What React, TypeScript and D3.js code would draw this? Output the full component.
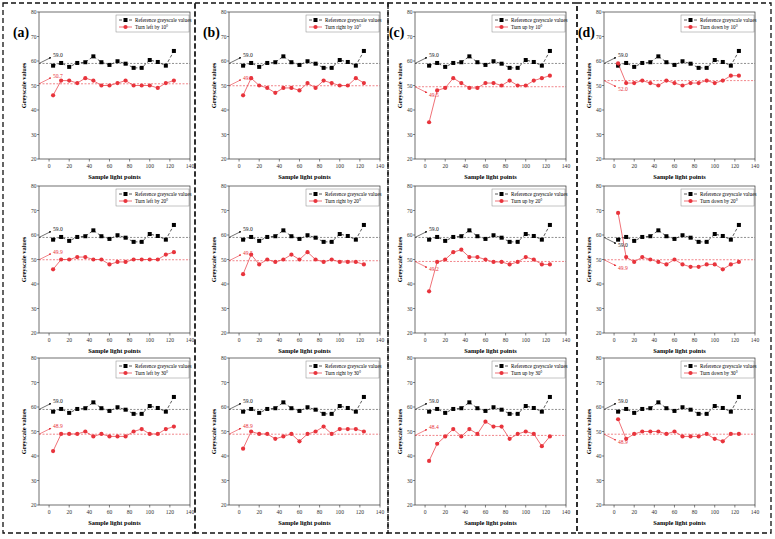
import React from 'react';
import * as d3 from 'd3';

// sample light points (x) and the reference greyscale values shared by every panel
const samplePoints = [4, 12, 20, 28, 36, 44, 52, 60, 68, 76, 84, 92, 100, 108, 116, 124];
const referenceValues = [58.1, 59.2, 57.6, 59.2, 59.5, 61.9, 59.5, 58.4, 59.9, 58.9, 57.2, 57.2, 60.4, 59.6, 58.1, 64.1];
const referenceMean = 59.0;

// turned greyscale values
const left10 = [46, 52, 52, 51, 53, 52, 50, 50, 51, 52, 50, 50, 50, 49, 51, 52];
const left20 = [46, 50, 50, 51, 51, 50, 50, 48, 49, 49, 50, 50, 50, 50, 52, 53];
const left30 = [42, 49, 49, 49, 50, 48, 49, 48, 48, 48, 50, 51, 49, 49, 51, 52];
const right10 = [46, 53, 50, 49, 47, 49, 49, 48, 51, 49, 52, 51, 50, 50, 53, 51];
const right20 = [44, 52, 48, 50, 49, 50, 52, 50, 53, 50, 49, 50, 49, 49, 49, 48];
const right30 = [43, 50, 49, 49, 47, 48, 49, 46, 49, 50, 52, 49, 51, 51, 51, 50];
const up10 = [35, 48, 49, 53, 51, 49, 49, 51, 51, 50, 52, 50, 50, 52, 53, 54];
const up20 = [37, 49, 50, 53, 54, 51, 51, 50, 49, 49, 48, 49, 51, 50, 48, 48];
const up30 = [38, 45, 48, 51, 48, 51, 49, 54, 52, 52, 47, 49, 50, 49, 44, 48];
const down10 = [59, 51, 51, 52, 51, 50, 52, 51, 50, 51, 51, 52, 51, 52, 54, 54];
const down20 = [69, 51, 49, 51, 50, 49, 48, 50, 48, 47, 47, 48, 48, 46, 48, 49];
const down30 = [55, 47, 49, 50, 50, 50, 49, 50, 48, 48, 48, 49, 47, 46, 49, 49];

const leftMeans = [50.7, 49.9, 48.9];
const rightMeans = [49.9, 49.5, 48.9];
const upMeans = [49.5, 49.2, 48.4];
const downMeans = [52.0, 49.9, 48.9];

const panelLetters = ['(a)', '(b)', '(c)', '(d)'];
const directions = ['left', 'right', 'up', 'down'];
const angles = [10, 20, 30];
const xTicks = [0, 20, 40, 60, 80, 100, 120, 140];
const yTicks = [20, 30, 40, 50, 60, 70, 80];

const seriesByCol = [
  [left10, left20, left30],
  [right10, right20, right30],
  [up10, up20, up30],
  [down10, down20, down30],
];
const meansByCol = [leftMeans, rightMeans, upMeans, downMeans];

// which side of the dashed line each value label sits on (-1 above, 1 below)
const refSide = [[-1, -1, -1], [-1, -1, -1], [-1, -1, -1], [-1, 1, -1]];
const turnSide = [[-1, -1, -1], [-1, -1, -1], [1, 1, -1], [1, 1, 1]];

// layout
const colLeft = [39, 229, 415, 604];
const rowTop = [12, 186, 358];
const plotW = 151;
const plotH = 147;
const RED = '#e8343c';
const FONT = '"Liberation Serif", "DejaVu Serif", serif';

const Panel = ({ col, row }: { col: number; row: number }) => {
  const left = colLeft[col];
  const top = rowTop[row];
  const x = d3.scaleLinear().domain([-10, 140]).range([left, left + plotW]);
  const y = d3.scaleLinear().domain([20, 80]).range([top + plotH, top]);
  const values = seriesByCol[col][row];
  const mean = meansByCol[col][row];

  const line = d3
    .line<number>()
    .x((_, i) => x(samplePoints[i]))
    .y((d) => y(d));

  const legendX = left + plotW - 74;
  const legendY = top + 3;

  const note = (val: number, side: number, color: string) => {
    const y0 = y(val);
    const x1 = left + 12;
    const y1 = y0 + side * 6;
    return (
      <g>
        <line x1={left} y1={y0} x2={x1} y2={y1} stroke={color} strokeWidth={0.6} markerEnd={color === RED ? 'url(#arrRed)' : 'url(#arrBlack)'} />
        <text x={x1 + 2} y={y1 + (side < 0 ? 0 : 4)} fontSize={5.6} fill={color} fontFamily={FONT}>
          {val.toFixed(1)}
        </text>
      </g>
    );
  };

  return (
    <g>
      {/* axes ticks */}
      {xTicks.map((t) => (
        <g key={'x' + t}>
          <line x1={x(t)} x2={x(t)} y1={top + plotH} y2={top + plotH + 2.5} stroke="#333" strokeWidth={0.6} />
          <text x={x(t)} y={top + plotH + 9} fontSize={5.6} textAnchor="middle" fill="#333" fontFamily={FONT}>
            {t}
          </text>
        </g>
      ))}
      {yTicks.map((t) => (
        <g key={'y' + t}>
          <line x1={left - 2} x2={left} y1={y(t)} y2={y(t)} stroke="#333" strokeWidth={0.6} />
          <text x={left - 2.5} y={y(t) + 2} fontSize={5.5} textAnchor="end" fill="#333" fontFamily={FONT}>
            {t}
          </text>
        </g>
      ))}
      <text x={left + plotW / 2} y={top + plotH + 20} fontSize={6.4} fontWeight="bold" textAnchor="middle" fontFamily={FONT}>
        Sample light points
      </text>
      <text
        transform={`translate(${left - 13},${top + plotH / 2}) rotate(-90)`}
        fontSize={6.4}
        fontWeight="bold"
        textAnchor="middle"
        fontFamily={FONT}
      >
        Greyscale values
      </text>

      {/* mean lines */}
      <line x1={left} x2={left + plotW} y1={y(referenceMean)} y2={y(referenceMean)} stroke="#444" strokeWidth={0.6} strokeDasharray="2,1.5" />
      <line x1={left} x2={left + plotW} y1={y(mean)} y2={y(mean)} stroke={RED} strokeWidth={0.6} strokeDasharray="2,1.5" />

      {/* reference series */}
      <path d={line(referenceValues) || ''} fill="none" stroke="#111" strokeWidth={0.7} strokeDasharray="3,2" />
      {referenceValues.map((v, i) => (
        <rect key={'r' + i} x={x(samplePoints[i]) - 2} y={y(v) - 2} width={4} height={4} fill="#000" />
      ))}

      {/* turned series */}
      <path d={line(values) || ''} fill="none" stroke={RED} strokeWidth={0.7} />
      {values.map((v, i) => (
        <circle key={'c' + i} cx={x(samplePoints[i])} cy={y(v)} r={2.1} fill={RED} />
      ))}

      {note(referenceMean, refSide[col][row], '#111')}
      {note(mean, turnSide[col][row], RED)}

      {/* legend */}
      <rect x={legendX} y={legendY} width={73} height={17} fill="#fff" stroke="#888" strokeWidth={0.5} />
      <line x1={legendX + 3} x2={legendX + 16} y1={legendY + 5} y2={legendY + 5} stroke="#111" strokeWidth={0.7} strokeDasharray="3,2" />
      <rect x={legendX + 7.5} y={legendY + 3} width={4} height={4} fill="#000" />
      <text x={legendX + 19} y={legendY + 6.8} fontSize={5.2} fontFamily={FONT}>
        Reference greyscale values
      </text>
      <line x1={legendX + 3} x2={legendX + 16} y1={legendY + 12} y2={legendY + 12} stroke={RED} strokeWidth={0.7} />
      <circle cx={legendX + 9.5} cy={legendY + 12} r={2.1} fill={RED} />
      <text x={legendX + 19} y={legendY + 13.8} fontSize={5.2} fontFamily={FONT}>
        {`Turn ${directions[col]} by ${angles[row]}°`}
      </text>

      {/* frame */}
      <rect x={left} y={top} width={plotW} height={plotH} fill="none" stroke="#333" strokeWidth={0.7} />
    </g>
  );
};

const colBounds = [3, 195, 388, 577, 771];

export default function App() {
  return (
    <svg width={775} height={539} style={{ position: 'absolute', left: 0, top: 0, background: '#fff' }}>
      <defs>
        <marker id="arrBlack" viewBox="0 0 6 6" refX="5" refY="3" markerWidth="4" markerHeight="4" orient="auto">
          <path d="M0,0 L6,3 L0,6 z" fill="#111" />
        </marker>
        <marker id="arrRed" viewBox="0 0 6 6" refX="5" refY="3" markerWidth="4" markerHeight="4" orient="auto">
          <path d="M0,0 L6,3 L0,6 z" fill={RED} />
        </marker>
      </defs>
      {colBounds.slice(0, 4).map((b, i) => (
        <rect
          key={'box' + i}
          x={b}
          y={3}
          width={colBounds[i + 1] - b}
          height={530}
          fill="none"
          stroke="#111"
          strokeWidth={1.3}
          strokeDasharray="5,3"
        />
      ))}
      {[0, 1, 2, 3].map((c) =>
        [0, 1, 2].map((r) => <Panel key={c + '-' + r} col={c} row={r} />)
      )}
      {panelLetters.map((l, i) => (
        <text key={l} x={colLeft[i] - 26} y={37} fontSize={13.8} fontWeight="bold" fontFamily={FONT}>
          {l}
        </text>
      ))}
    </svg>
  );
}
